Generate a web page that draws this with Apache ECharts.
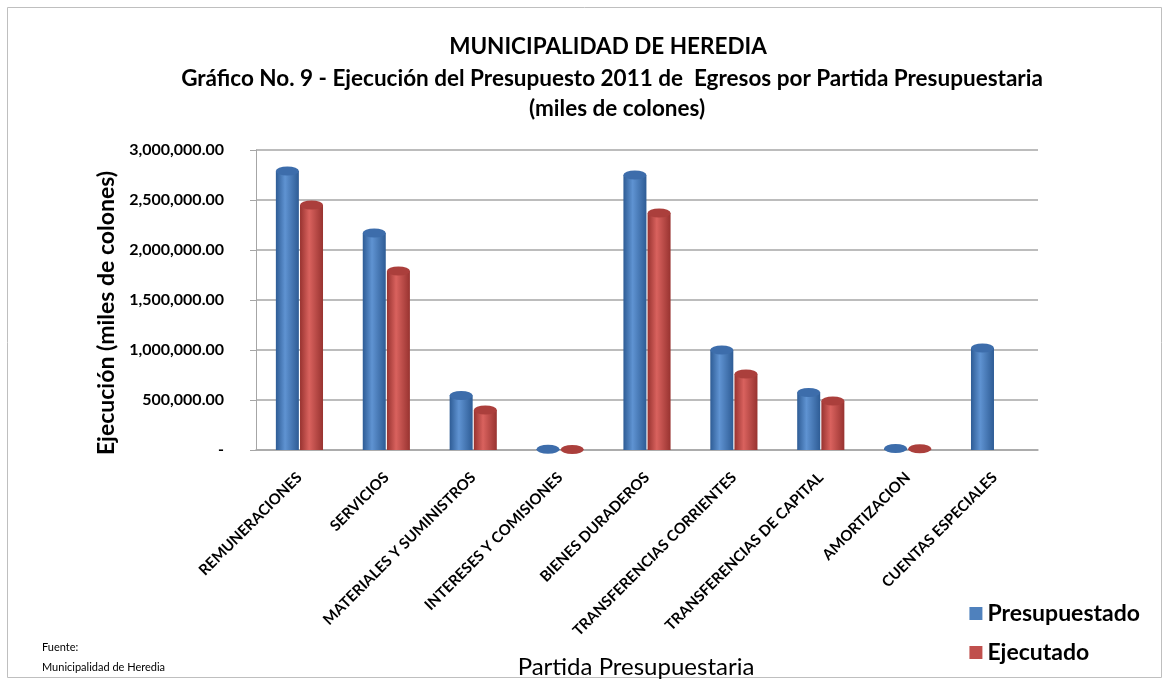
<!DOCTYPE html>
<html>
<head>
<meta charset="utf-8">
<script src="https://cdn.jsdelivr.net/npm/echarts@6/dist/echarts.min.js"></script>
<style>
  html, body { margin: 0; padding: 0; background: #fff; }
  #chart { width: 1169px; height: 683px; }
</style>
</head>
<body>
<div id="chart"></div>
<script>
// datos (miles de colones)
var partidas = [
  "REMUNERACIONES", "SERVICIOS", "MATERIALES Y SUMINISTROS", "INTERESES Y COMISIONES",
  "BIENES DURADEROS", "TRANSFERENCIAS CORRIENTES", "TRANSFERENCIAS DE CAPITAL",
  "AMORTIZACION", "CUENTAS ESPECIALES"
];
var presupuestado = [2790000, 2170000, 545000, 8000, 2750000, 1000000, 575000, 15000, 1020000];
var ejecutado = [2450000, 1790000, 400000, 5000, 2370000, 760000, 490000, 12000, 0];
var yTicks = [0, 500000, 1000000, 1500000, 2000000, 2500000, 3000000];

var FONT = "Lato";
var chart = echarts.init(document.getElementById("chart"));

function cyl(dark, light) {
  return new echarts.graphic.LinearGradient(0, 0, 1, 0, [
    { offset: 0, color: dark },
    { offset: 0.4, color: light },
    { offset: 1, color: dark }
  ]);
}
var blueBody = cyl("#2e5c95", "#5f93d2");
var redBody = cyl("#983330", "#d9625e");

function fmt(v) {
  if (v === 0) return "-";
  return v.toLocaleString("en-US", { minimumFractionDigits: 2, maximumFractionDigits: 2 });
}

var titleStyle = { fontFamily: FONT, fontSize: 22.5, fontWeight: "bold", color: "#000" };

chart.setOption({
  backgroundColor: "#fff",
  textStyle: { fontFamily: FONT },
  title: [
    { text: "MUNICIPALIDAD DE HEREDIA", left: 603, top: 30, textAlign: "center", textStyle: titleStyle },
    { text: "Gráfico No. 9 - Ejecución del Presupuesto 2011 de  Egresos por Partida Presupuestaria", left: 607, top: 62, textAlign: "center", textStyle: titleStyle },
    { text: "(miles de colones)", left: 612, top: 92, textAlign: "center", textStyle: titleStyle },
    {
      text: "Fuente:\nMunicipalidad de Heredia",
      left: 37,
      top: 632,
      textStyle: { fontFamily: FONT, fontSize: 11, fontWeight: "normal", color: "#000", lineHeight: 20 }
    }
  ],
  legend: {
    orient: "vertical",
    right: 24,
    top: 597,
    itemWidth: 13,
    itemHeight: 13,
    itemGap: 16,
    icon: "rect",
    data: [
      { name: "Presupuestado", itemStyle: { color: "#4f81bd" } },
      { name: "Ejecutado", itemStyle: { color: "#c0504d" } }
    ],
    textStyle: { fontFamily: FONT, fontSize: 23, fontWeight: "bold", color: "#000" }
  },
  grid: { left: 256, top: 150, width: 782, height: 300 },
  xAxis: {
    type: "category",
    data: partidas,
    axisLine: { lineStyle: { color: "#a6a6a6", width: 1.5 } },
    axisTick: { show: false },
    axisLabel: {
      interval: 0,
      rotate: 45,
      margin: 25,
      fontFamily: FONT,
      fontSize: 15,
      fontWeight: "bold",
      color: "#000"
    }
  },
  yAxis: {
    type: "value",
    min: 0,
    max: 3000000,
    interval: 500000,
    axisLine: { show: true, lineStyle: { color: "#a6a6a6" } },
    axisTick: { show: true, length: 6, lineStyle: { color: "#a6a6a6" } },
    splitLine: { lineStyle: { color: "#a6a6a6", width: 1.5 } },
    axisLabel: {
      margin: 32,
      fontFamily: FONT,
      fontSize: 16,
      fontWeight: "bold",
      color: "#000",
      formatter: function (v) { return yTicks.indexOf(v) >= 0 ? fmt(v) : ""; }
    }
  },
  series: [
    {
      name: "Presupuestado",
      type: "bar",
      data: presupuestado,
      barWidth: 23,
      barGap: "5%",
      itemStyle: { color: blueBody }
    },
    {
      name: "Ejecutado",
      type: "bar",
      data: ejecutado.map(function (v) { return v === 0 ? null : v; }),
      barWidth: 23,
      barGap: "5%",
      itemStyle: { color: redBody }
    },
    // tapas superiores de los cilindros
    {
      name: "Presupuestado",
      type: "pictorialBar",
      data: presupuestado,
      symbol: "circle",
      symbolPosition: "end",
      symbolSize: [23, 9],
      symbolOffset: [-12.1, "-50%"],
      z: 3,
      itemStyle: { color: "#3d6dab" },
      tooltip: { show: false }
    },
    {
      name: "Ejecutado",
      type: "pictorialBar",
      data: ejecutado.map(function (v) { return v === 0 ? null : v; }),
      symbol: "circle",
      symbolPosition: "end",
      symbolSize: [23, 9],
      symbolOffset: [12.1, "-50%"],
      z: 3,
      itemStyle: { color: "#ab3f3c" },
      tooltip: { show: false }
    }
  ],
  graphic: [
    {
      type: "rect",
      shape: { x: 7.5, y: 7.5, width: 1154, height: 670 },
      style: { fill: "none", stroke: "#bfbfbf", lineWidth: 1 },
      silent: true
    },
    {
      type: "text",
      x: 107,
      y: 313,
      rotation: Math.PI / 2,
      style: {
        text: "Ejecución (miles de colones)",
        fontFamily: FONT,
        fontSize: 23,
        fontWeight: "bold",
        fill: "#000",
        align: "center",
        verticalAlign: "middle"
      },
      silent: true
    },
    {
      type: "text",
      x: 636,
      y: 667,
      style: {
        text: "Partida Presupuestaria",
        fontFamily: FONT,
        fontSize: 24,
        fill: "#000",
        align: "center",
        verticalAlign: "middle"
      },
      silent: true
    }
  ]
});
</script>
</body>
</html>
